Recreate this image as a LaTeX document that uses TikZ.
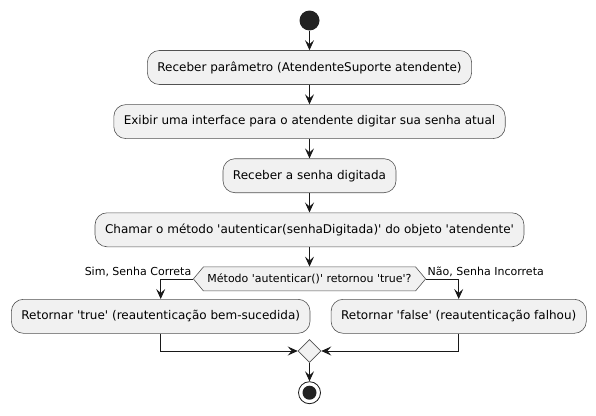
\documentclass[tikz,border=0pt]{standalone}
\usepackage{fontspec}
\setmainfont{DejaVu Sans}
\newfontfamily\umlfont{DejaVu Sans}
\usetikzlibrary{positioning,shapes.geometric,shapes.symbols,arrows.meta}
\definecolor{actfill}{HTML}{F1F1F1}
\definecolor{actline}{HTML}{181818}
\definecolor{dotfill}{HTML}{222222}
\begin{document}
\begin{tikzpicture}[x=1pt,y=-1pt,font=\umlfont\fontsize{12}{14}\selectfont,node distance=19.5pt]
      \tikzstyle{actnode}=[draw=actline!75, fill=actfill, rounded corners=12pt, minimum height=34pt, inner xsep=10pt, line width=0.6pt]
      \tikzstyle{decnode}=[draw=actline!75, fill=actfill, signal, signal to=west and east, signal pointer angle=100, minimum height=24pt, minimum width=229pt, inner xsep=4pt, line width=0.6pt, font=\umlfont\fontsize{11}{13}\selectfont]
      \tikzstyle{mergenode}=[draw=actline!75, fill=actfill, diamond, minimum size=23pt, inner sep=0pt, line width=0.6pt]
      \tikzstyle{startnode}=[circle, fill=dotfill, minimum size=20pt, inner sep=0pt]
      \tikzstyle{stopnode}=[circle, draw=actline, fill=white, minimum size=22pt, inner sep=0pt, line width=0.8pt,
        path picture={\fill[dotfill] (path picture bounding box.center) circle (7pt);}]
      \tikzstyle{labnode}=[inner sep=1.5pt, font=\umlfont\fontsize{11}{13}\selectfont]
      \tikzstyle{flow}=[draw=actline, line width=0.8pt, -{Stealth[length=10pt,width=9pt,inset=4pt]}]
      \useasboundingbox (0,0) rectangle (596,415);
      \node[startnode] (start) at (309.5,20.5) {};
      \node[actnode, below=of start] (recv) {Receber parâmetro (AtendenteSuporte atendente)};
      \node[actnode, below=of recv] (show) {Exibir uma interface para o atendente digitar sua senha atual};
      \node[actnode, below=of show] (read) {Receber a senha digitada};
      \node[actnode, below=of read] (call) {Chamar o método 'autenticar(senhaDigitada)' do objeto 'atendente'};
      \node[decnode, below=of call] (check) {Método 'autenticar()' retornou 'true'?};
      \node[actnode] (okact) at (160.7,316.3) {Retornar 'true' (reautenticação bem-sucedida)};
      \node[actnode] (failact) at (458.7,316.3) {Retornar 'false' (reautenticação falhou)};
      \node[mergenode] (merge) at (309.5,351) {};
      \node[stopnode] (stop) at (309.5,392.7) {};
      \node[labnode, anchor=south east] (simlab) at (check.west) {Sim, Senha Correta};
      \node[labnode, anchor=south west] (naolab) at (check.east) {Não, Senha Incorreta};
      \draw[flow] (start) -- (recv);
      \draw[flow] (recv) -- (show);
      \draw[flow] (show) -- (read);
      \draw[flow] (read) -- (call);
      \draw[flow] (call) -- (check);
      \draw[flow] (check.west) -| (okact.north);
      \draw[flow] (check.east) -| (failact.north);
      \draw[flow] (okact.south) |- (merge.west);
      \draw[flow] (failact.south) |- (merge.east);
      \draw[flow] (merge) -- (stop);
\end{tikzpicture}
\end{document}
